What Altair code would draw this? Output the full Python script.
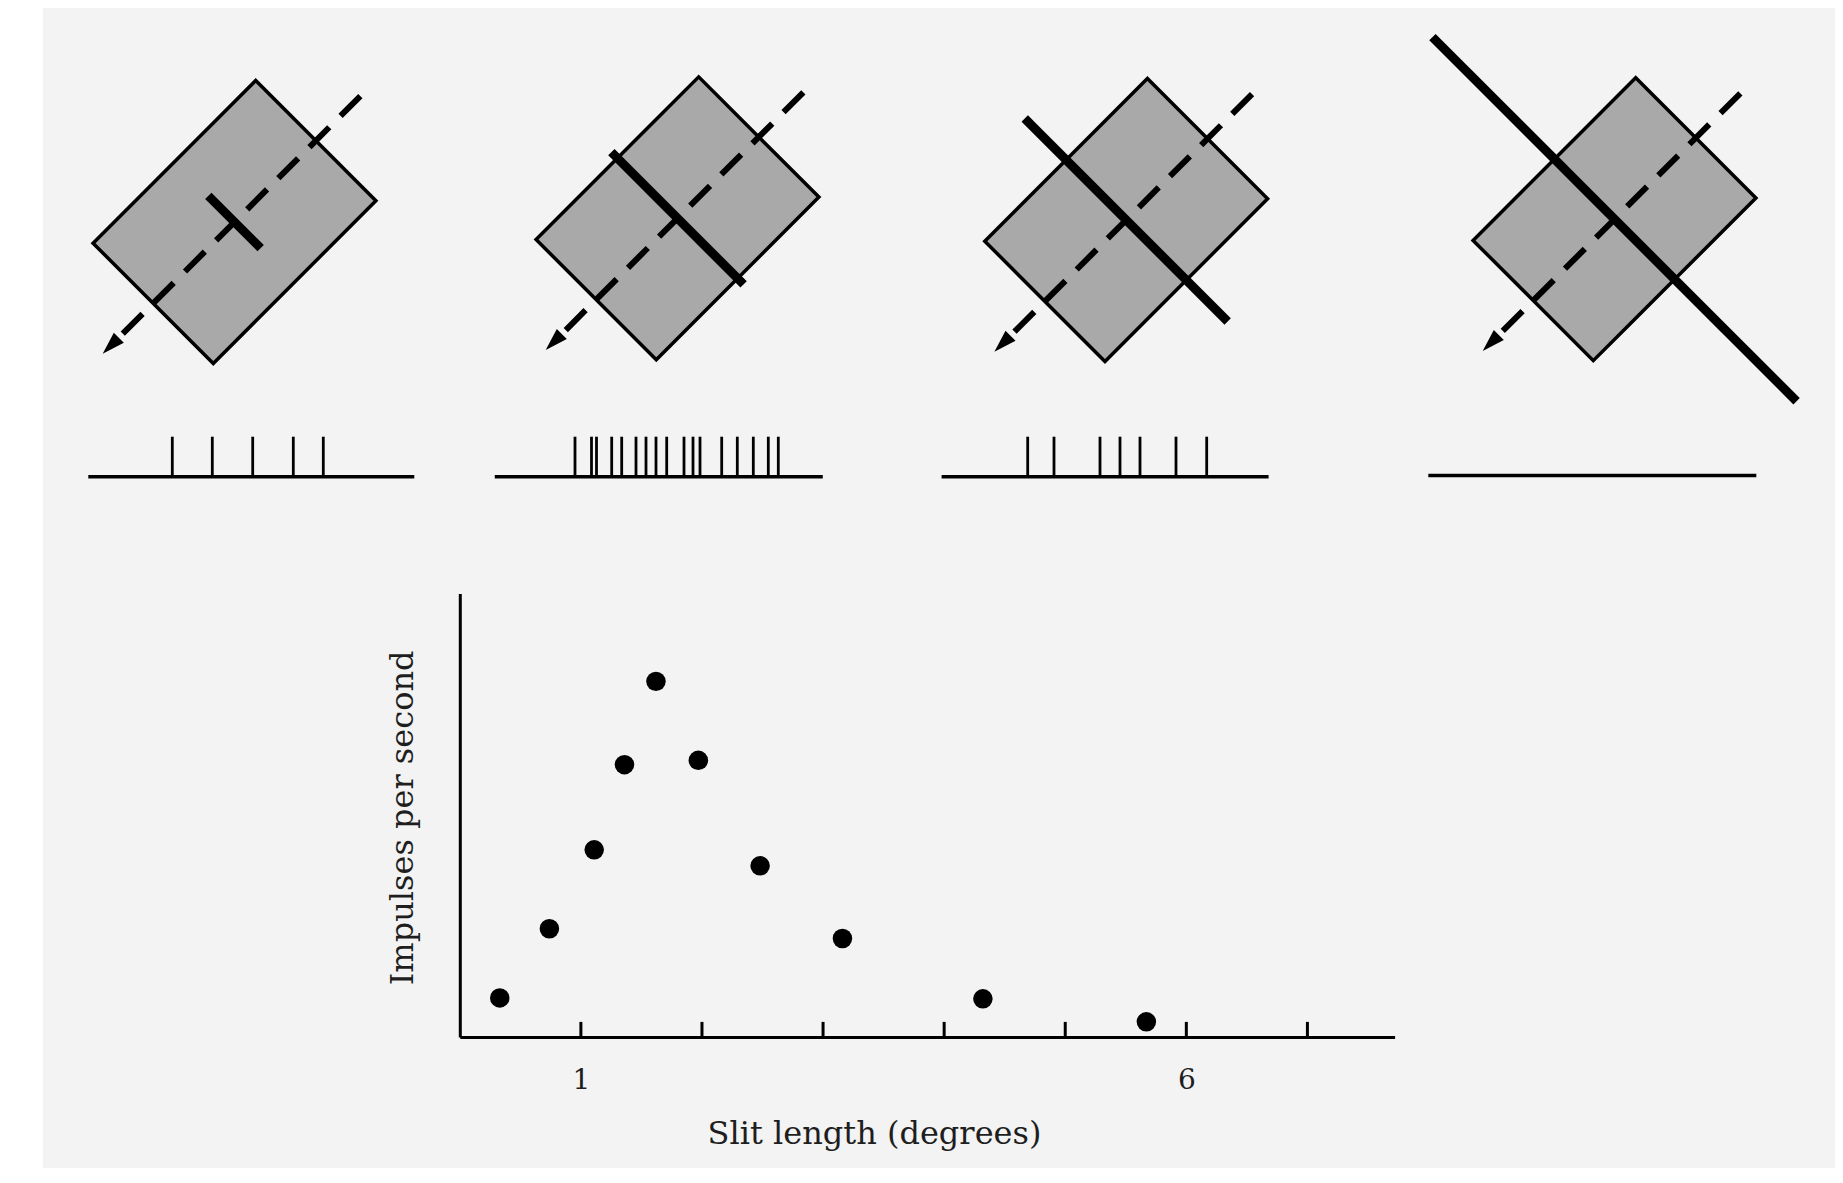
import altair as alt
import numpy as np
import pandas as pd

# ---------------- bottom plot: response vs slit length ----------------
slit_deg = [0.33, 0.74, 1.11, 1.36, 1.62, 1.97, 2.48, 3.16, 4.32, 5.67]
impulses_per_s = [4.4, 12.2, 21.1, 30.7, 40.1, 31.2, 19.3, 11.1, 4.3, 1.7]
slit_ticks = [1, 2, 3, 4, 5, 6, 7]
slit_tick_labels = [1, 6]
slit_axis_max = 7.72
impulse_axis_max = 50

# ---------------- top: stimulus diagrams (figure units, y downward) ----------------
panel = ["a", "b", "c", "d"]
rf_x = [234.5, 677.5, 1126.2, 1614.5]
rf_y = [222.0, 218.3, 220.0, 219.2]
rf_long = [230, 230, 230, 230]
rf_short = [170, 170, 170, 170]
rf_orientation = [45, 45, 45, 45]
stim_slit = [74, 187, 287, 515]
path_front = [178, 178, 178, 178]
path_back = [186, 186, 186, 186]

# spike trains below each diagram (spike offsets along the trace)
trace_x0 = [88.3, 494.8, 941.6, 1428.3]
trace_len = [326, 328, 327, 328]
trace_y = [476.7, 476.7, 476.7, 475.5]
spike_h = 40
spikes_a = [84, 124, 164.4, 205, 235]
spikes_b = [80.2, 96.7, 101.7, 116.9, 126.9, 141.2, 151.2, 161.2, 171.9,
            189.2, 198.2, 205.2, 226.9, 242.5, 258.5, 273.5, 283.5]
spikes_c = [86.1, 112.4, 158.4, 178.4, 198.4, 234.4, 265.1]
spikes_d = []
spike_lists = [spikes_a, spikes_b, spikes_c, spikes_d]

FONT = "DejaVu Serif"
TEXT = "#1e1e1e"

# ---------- build diagram tables ----------
rf_rows, path_rows, arrow_rows, slit_rows, trace_rows, spike_rows = [], [], [], [], [], []
for i, p in enumerate(panel):
    t = np.radians(rf_orientation[i])
    u = np.array([np.cos(t), -np.sin(t)])   # long axis (toward upper right)
    v = np.array([np.sin(t), np.cos(t)])    # short axis (toward lower right)
    c = np.array([rf_x[i], rf_y[i]])
    L, W = rf_long[i], rf_short[i]
    corners = [c + a * L / 2 * u + b * W / 2 * v for a, b in [(1, 1), (1, -1), (-1, -1), (-1, 1)]]
    edges = [(corners[k], corners[(k + 1) % 4]) for k in range(4)]
    for xb in sorted(q[0] for q in corners):
        ys = []
        for pa, pb in edges:
            lo, hi = min(pa[0], pb[0]), max(pa[0], pb[0])
            if lo - 1e-9 <= xb <= hi + 1e-9 and abs(pb[0] - pa[0]) > 1e-9:
                ys.append(pa[1] + (xb - pa[0]) * (pb[1] - pa[1]) / (pb[0] - pa[0]))
        rf_rows.append({"panel": p, "x": xb, "y_top": min(ys), "y_bot": max(ys)})
    ne = c + path_front[i] * u
    sw = c - (path_back[i] - 22) * u
    path_rows.append({"panel": p, "x": ne[0], "y": ne[1], "x2": sw[0], "y2": sw[1]})
    head = c - (path_back[i] - 11) * u
    arrow_rows.append({"panel": p, "x": head[0], "y": head[1]})
    s1 = c - stim_slit[i] / 2 * v
    s2 = c + stim_slit[i] / 2 * v
    slit_rows.append({"panel": p, "x": s1[0], "y": s1[1], "x2": s2[0], "y2": s2[1]})
    trace_rows.append({"panel": p, "x": trace_x0[i], "x2": trace_x0[i] + trace_len[i], "y": trace_y[i]})
    for s in spike_lists[i]:
        spike_rows.append({"panel": p, "x": trace_x0[i] + s, "y": trace_y[i] - spike_h, "y2": trace_y[i]})

rf_df = pd.DataFrame(rf_rows)
path_df = pd.DataFrame(path_rows)
arrow_df = pd.DataFrame(arrow_rows)
slit_df = pd.DataFrame(slit_rows)
trace_df = pd.DataFrame(trace_rows)
spike_df = pd.DataFrame(spike_rows)

FX = alt.Scale(domain=[43, 1835], nice=False, zero=False)
FY = alt.Scale(domain=[1168, 8], nice=False, zero=False)

rf_chart = alt.Chart(rf_df).mark_area(
    fill="#a9a9a9", stroke="black", strokeWidth=3.5, strokeJoin="miter", opacity=1, fillOpacity=1
).encode(
    x=alt.X("x:Q", scale=FX, axis=None),
    y=alt.Y("y_top:Q", scale=FY, axis=None),
    y2="y_bot:Q",
    detail="panel:N",
)

path_chart = alt.Chart(path_df).mark_rule(
    color="black", strokeWidth=6, strokeDash=[28, 16], strokeCap="butt"
).encode(
    x=alt.X("x:Q", scale=FX, axis=None),
    y=alt.Y("y:Q", scale=FY, axis=None),
    x2="x2:Q",
    y2="y2:Q",
)

arrow_chart = alt.Chart(arrow_df).mark_point(
    shape="M0,-1L0.62,1L-0.62,1Z", filled=True, fill="black", strokeWidth=0,
    size=520, angle=225, opacity=1
).encode(
    x=alt.X("x:Q", scale=FX, axis=None),
    y=alt.Y("y:Q", scale=FY, axis=None),
)

slit_chart = alt.Chart(slit_df).mark_rule(
    color="black", strokeWidth=9, strokeCap="butt"
).encode(
    x=alt.X("x:Q", scale=FX, axis=None),
    y=alt.Y("y:Q", scale=FY, axis=None),
    x2="x2:Q",
    y2="y2:Q",
)

trace_chart = alt.Chart(trace_df).mark_rule(
    color="black", strokeWidth=3.5
).encode(
    x=alt.X("x:Q", scale=FX, axis=None),
    x2="x2:Q",
    y=alt.Y("y:Q", scale=FY, axis=None),
)

spike_chart = alt.Chart(spike_df).mark_rule(
    color="black", strokeWidth=2.8
).encode(
    x=alt.X("x:Q", scale=FX, axis=None),
    y=alt.Y("y:Q", scale=FY, axis=None),
    y2="y2:Q",
)

diagram = alt.layer(rf_chart, path_chart, arrow_chart, slit_chart, trace_chart, spike_chart)

# ---------- scatter plot ----------
pts_df = pd.DataFrame({"slit": slit_deg, "imp": impulses_per_s})
ticks_df = pd.DataFrame({"t": slit_ticks, "zero": [0] * len(slit_ticks)})

SX = alt.Scale(domain=[0, slit_axis_max], range=[416.8, 1351.6], nice=False, zero=False)
SY = alt.Scale(domain=[0, impulse_axis_max], range=[1028.9, 585.6], nice=False)

x_axis = alt.Axis(
    orient="bottom", offset=-131.1, values=slit_tick_labels, format="d",
    ticks=False, tickSize=0, grid=False,
    domainColor="black", domainWidth=3,
    labelFont=FONT, labelFontSize=28, labelColor=TEXT, labelPadding=29.7, labelFlush=False,
    title="Slit length (degrees)", titleFont=FONT, titleFontSize=32, titleFontWeight="normal",
    titleColor=TEXT, titleX=831, titleY=106.4, titleAlign="center", titleBaseline="alphabetic",
)
y_axis = alt.Axis(
    orient="left", offset=-416.8, ticks=False, labels=False, grid=False,
    domainColor="black", domainWidth=3,
    title="Impulses per second", titleFont=FONT, titleFontSize=32, titleFontWeight="normal",
    titleColor=TEXT, titleAngle=270, titleX=-47.8, titleY=809.4,
    titleAlign="center", titleBaseline="alphabetic",
)

tick_chart = alt.Chart(ticks_df).mark_rule(
    color="black", strokeWidth=3, y2Offset=-15
).encode(
    x=alt.X("t:Q", scale=SX, axis=x_axis),
    y=alt.Y("zero:Q", scale=SY, axis=y_axis),
    y2="zero:Q",
)

point_chart = alt.Chart(pts_df).mark_circle(
    color="black", size=380, opacity=1
).encode(
    x=alt.X("slit:Q", scale=SX, axis=x_axis),
    y=alt.Y("imp:Q", scale=SY, axis=y_axis),
)

plot = alt.layer(tick_chart, point_chart)

chart = alt.layer(diagram, plot).resolve_scale(
    x="independent", y="independent"
).properties(
    width=1792, height=1160,
    padding={"left": 35, "top": 0, "right": 0, "bottom": 0},
    autosize="none",
    background="white",
).configure_view(fill="#f3f3f3", strokeWidth=0)

chart.save("out.html", embed_options={"renderer": "svg", "actions": False})
